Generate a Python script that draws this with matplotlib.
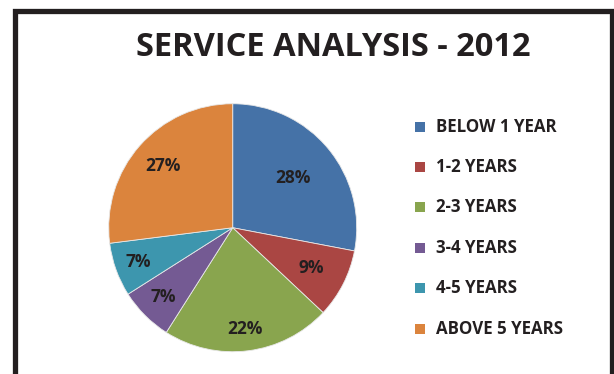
import numpy as np
import matplotlib.pyplot as plt
from matplotlib.patches import Rectangle

# service length share, 2012
categories = ['BELOW 1 YEAR', '1-2 YEARS', '2-3 YEARS', '3-4 YEARS', '4-5 YEARS', 'ABOVE 5 YEARS']
shares = [28, 9, 22, 7, 7, 27]
colors = ['#4572A7', '#AA4643', '#89A54E', '#745A93', '#3D96AE', '#DB843D']
label_r = [0.63, 0.71, 0.82, 0.79, 0.81, 0.75]   # radial spot of each % label

ink = '#231F20'
plt.rcParams['font.family'] = ['Open Sans', 'DejaVu Sans']

fig = plt.figure(figsize=(6.14, 3.74), dpi=100)
fig.patch.set_facecolor('white')

# outer frame (runs off the bottom edge)
fig.add_artist(Rectangle((14.5 / 614, -0.2), (611.5 - 14.5) / 614, 1.2 - 11 / 374,
                         transform=fig.transFigure, fill=False, ec=ink, lw=3.8))

fig.text(333 / 614, 1 - 47 / 374, 'SERVICE ANALYSIS - 2012', ha='center', va='center',
         fontsize=23.5, fontweight='bold', color=ink)

ax = fig.add_axes([0.177, 0.0596, 0.404, 0.663])
wedges, _ = ax.pie(shares, colors=colors, startangle=90, counterclock=False,
                   radius=1, wedgeprops=dict(edgecolor='#e8e8e8', linewidth=0.6))
ax.set_xlim(-1, 1)
ax.set_ylim(-1, 1)
ax.set_aspect('equal')
ax.axis('off')

for w, v, r in zip(wedges, shares, label_r):
    ang = np.deg2rad((w.theta1 + w.theta2) / 2)
    ax.text(r * np.cos(ang), r * np.sin(ang), f'{v}%', ha='center', va='center',
            fontsize=12.5, fontweight='bold', color=ink)

# legend drawn as squares + labels
for i, (c, lab) in enumerate(zip(colors, categories)):
    y = 1 - (126.5 + i * 40.4) / 374
    fig.add_artist(Rectangle((415 / 614, y - 5 / 374), 10 / 614, 10 / 374,
                             transform=fig.transFigure, fc=c, ec='none'))
    fig.text(436 / 614, y, lab, ha='left', va='center', fontsize=12.2,
             fontweight='bold', color=ink)

fig.savefig('out.png', dpi=100)
